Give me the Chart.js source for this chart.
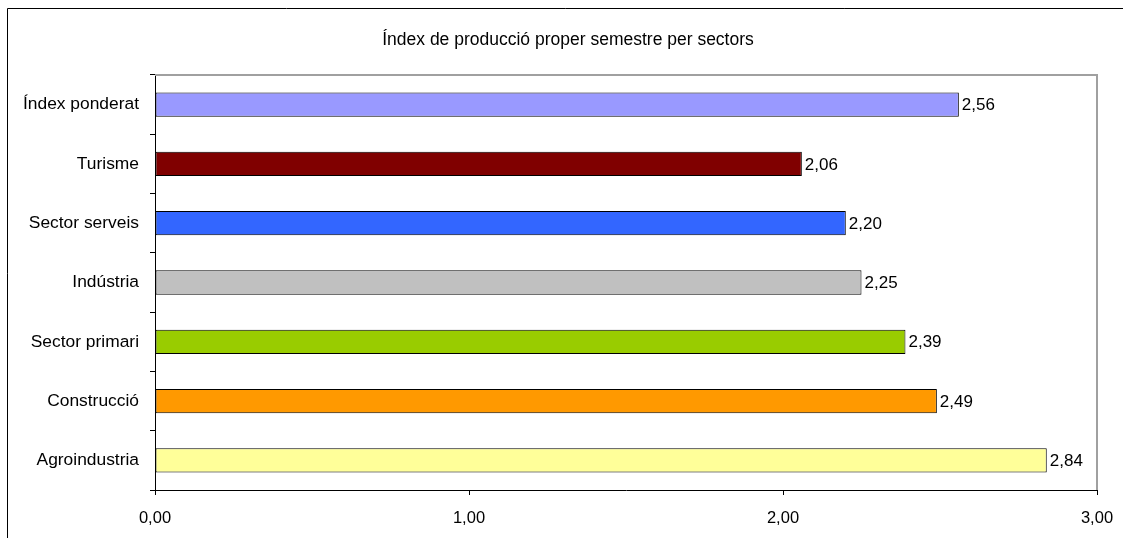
<!DOCTYPE html>
<html>
<head>
<meta charset="utf-8">
<script src="https://cdn.jsdelivr.net/npm/chart.js@4.4.0/dist/chart.umd.min.js"></script>
<style>
  html, body { margin: 0; padding: 0; background: #fff; }
  #wrap { width: 1123px; height: 538px; position: relative; }
</style>
</head>
<body>
<div id="wrap"><canvas id="chart" width="1123" height="538"></canvas></div>
<script>
// dades del gràfic
const categories = ['Índex ponderat', 'Turisme', 'Sector serveis', 'Indústria', 'Sector primari', 'Construcció', 'Agroindustria'];
const values = [2.56, 2.06, 2.20, 2.25, 2.39, 2.49, 2.84];
const barColors = ['#9999FF', '#800000', '#3366FF', '#C0C0C0', '#99CC00', '#FF9900', '#FFFF99'];
const xTicks = [0, 1, 2, 3];
const chartTitle = 'Índex de producció proper semestre per sectors';

const FONT = '"Liberation Sans", Arial, sans-serif';
const fmt = v => v.toFixed(2).replace('.', ',');

// marc exterior, títol i vores grises de l'àrea del gràfic
const framePlugin = {
  id: 'frame',
  afterDraw(chart) {
    const ctx = chart.ctx;
    const a = chart.chartArea;
    ctx.save();
    ctx.strokeStyle = '#000';
    ctx.lineWidth = 1;
    ctx.beginPath();
    ctx.moveTo(7.5, 538);
    ctx.lineTo(7.5, 8.5);
    ctx.lineTo(1123, 8.5);
    ctx.stroke();
    ctx.strokeStyle = '#a0a0a0';
    ctx.lineWidth = 2;
    ctx.beginPath();
    ctx.moveTo(a.left, a.top);
    ctx.lineTo(a.right, a.top);
    ctx.lineTo(a.right, a.bottom);
    ctx.stroke();
    ctx.font = '17.5px ' + FONT;
    ctx.fillStyle = '#000';
    ctx.textAlign = 'center';
    ctx.textBaseline = 'middle';
    ctx.fillText(chartTitle, 568, 40);
    ctx.restore();
  }
};

// etiquetes de valor al final de cada barra
const labelPlugin = {
  id: 'valueLabels',
  afterDatasetsDraw(chart) {
    const ctx = chart.ctx;
    const meta = chart.getDatasetMeta(0);
    ctx.save();
    ctx.font = '17px ' + FONT;
    ctx.fillStyle = '#000';
    ctx.textAlign = 'left';
    ctx.textBaseline = 'middle';
    meta.data.forEach((bar, i) => {
      ctx.fillText(fmt(values[i]), bar.x + 3, bar.y + 1);
    });
    ctx.restore();
  }
};

new Chart(document.getElementById('chart'), {
  type: 'bar',
  data: {
    labels: categories,
    datasets: [{
      data: values,
      backgroundColor: barColors,
      borderColor: '#000',
      borderWidth: 1,
      borderSkipped: false,
      categoryPercentage: 1,
      barPercentage: 0.41
    }]
  },
  options: {
    indexAxis: 'y',
    responsive: false,
    animation: false,
    layout: { padding: { left: 0, right: 26, top: 75, bottom: 0 } },
    plugins: {
      legend: { display: false },
      tooltip: { enabled: false },
      title: { display: false }
    },
    scales: {
      x: {
        min: 0,
        max: 3,
        afterBuildTicks: scale => { scale.ticks = xTicks.map(v => ({ value: v })); },
        ticks: {
          color: '#000',
          font: { family: FONT, size: 16.5 },
          padding: 14,
          maxRotation: 0,
          callback: v => fmt(v)
        },
        grid: { drawOnChartArea: false, color: '#000', tickLength: 5 },
        border: { color: '#000', width: 1 },
        afterFit: scale => {
          scale.height = 48;
          scale.paddingLeft = 0;
          scale.paddingRight = 0;
        }
      },
      y: {
        ticks: {
          color: '#000',
          font: { family: FONT, size: 17.4 },
          padding: 11
        },
        grid: { drawOnChartArea: false, color: '#000', tickLength: 5, offset: true },
        border: { color: '#000', width: 1 },
        afterFit: scale => { scale.width = 155; }
      }
    }
  },
  plugins: [framePlugin, labelPlugin]
});
</script>
</body>
</html>
